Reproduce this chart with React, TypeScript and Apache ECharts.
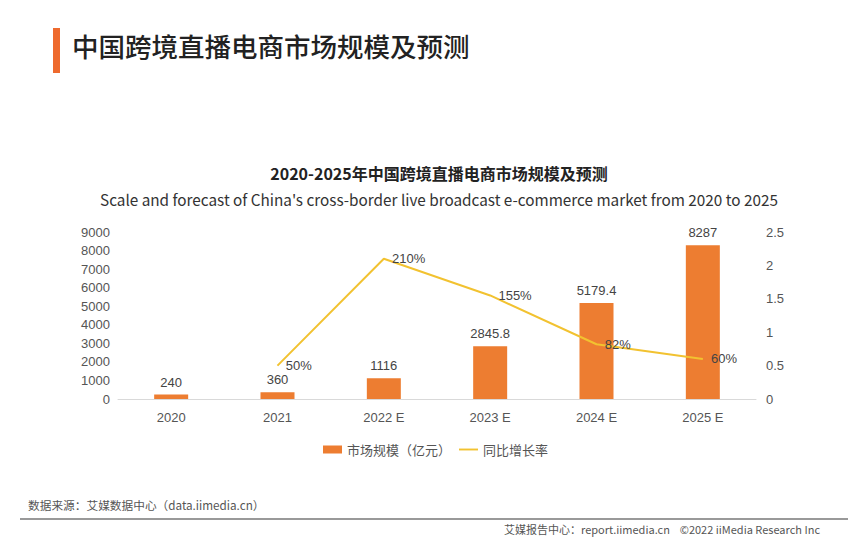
import React, { useEffect, useRef } from "react";
import * as echarts from "echarts";

const categories = ["2020", "2021", "2022 E", "2023 E", "2024 E", "2025 E"];
const marketSize = [240, 360, 1116, 2845.8, 5179.4, 8287];
const growthRate: (number | null)[] = [null, 0.5, 2.1, 1.55, 0.82, 0.6];
const seriesNames = ["市场规模（亿元）", "同比增长率"];
const pageTitle = "中国跨境直播电商市场规模及预测";
const chartTitle = "2020-2025年中国跨境直播电商市场规模及预测";
const chartSubtitle = "Scale and forecast of China's cross-border live broadcast e-commerce market from 2020 to 2025";
const sourceText = "数据来源：艾媒数据中心（data.iimedia.cn）";
const footerText = "艾媒报告中心：report.iimedia.cn    ©2022 iiMedia Research Inc";

const CJK = '"Noto Sans CJK SC", "Noto Sans", sans-serif';
const LAT = '"Liberation Sans", Arial, sans-serif';
const LINE_COLOR = "#F2C230";

export default function App() {
  const ref = useRef<HTMLDivElement>(null);
  useEffect(() => {
    if (!ref.current) return;
    const chart = echarts.init(ref.current, undefined, { renderer: "svg" });
    chart.setOption({
      animation: false,
      backgroundColor: "#ffffff",
      title: [
        {
          text: chartTitle,
          left: 434,
          top: 160,
          textAlign: "center",
          textStyle: { fontFamily: CJK, fontSize: 16, fontWeight: "bold", color: "#222" },
        },
        {
          text: chartSubtitle,
          left: 434,
          top: 186,
          textAlign: "center",
          textStyle: { fontFamily: CJK, fontSize: 15.3, fontWeight: "normal", color: "#333" },
        },
      ],
      grid: { left: 118, right: 98, top: 232, bottom: 144 },
      legend: {
        top: 438,
        left: 318,
        itemGap: 8,
        itemWidth: 19,
        itemHeight: 8,
        textStyle: { fontFamily: CJK, fontSize: 13, color: "#555" },
        data: [
          { name: seriesNames[0], icon: "rect" },
          { name: seriesNames[1], icon: "path://M0 3h20v2H0z", itemStyle: { color: LINE_COLOR, opacity: 1 } },
        ],
      },
      xAxis: {
        type: "category",
        data: categories,
        axisLine: { lineStyle: { color: "#d9d9d9", width: 1 } },
        axisTick: { show: false },
        axisLabel: { fontFamily: LAT, fontSize: 13, color: "#555", margin: 12 },
      },
      yAxis: [
        {
          type: "value",
          min: 0,
          max: 9000,
          interval: 1000,
          splitLine: { show: false },
          axisLine: { show: false },
          axisTick: { show: false },
          axisLabel: {
            fontFamily: LAT,
            fontSize: 13,
            color: "#555",
            margin: 8,
            formatter: (v: number) => String(v),
          },
        },
        {
          type: "value",
          min: 0,
          max: 2.5,
          interval: 0.5,
          splitLine: { show: false },
          axisLine: { show: false },
          axisTick: { show: false },
          axisLabel: { fontFamily: LAT, fontSize: 13, color: "#555", margin: 10 },
        },
      ],
      series: [
        {
          name: seriesNames[0],
          type: "bar",
          data: marketSize,
          barWidth: 34,
          itemStyle: { color: "#ED7D31" },
          label: {
            show: true,
            position: "top",
            distance: 6,
            fontFamily: LAT,
            fontSize: 13,
            color: "#444",
          },
        },
        {
          name: seriesNames[1],
          type: "line",
          yAxisIndex: 1,
          data: growthRate,
          symbol: "circle",
          symbolSize: 0.5,
          showSymbol: true,
          lineStyle: { color: LINE_COLOR, width: 2 },
          itemStyle: { color: LINE_COLOR },
          label: {
            show: true,
            position: "right",
            distance: 8,
            fontFamily: LAT,
            fontSize: 13,
            color: "#444",
            formatter: (p: any) => Math.round(p.value * 100) + "%",
          },
        },
      ],
      graphic: [
        { type: "rect", left: 53, top: 28, shape: { width: 7, height: 45 }, style: { fill: "#EE6A2E" } },
        {
          type: "text",
          left: 72,
          top: 32,
          style: { text: pageTitle, font: `500 26.5px ${CJK}`, fill: "#222" },
        },
        {
          type: "text",
          left: 28,
          top: 499,
          style: { text: sourceText, font: `11.7px ${CJK}`, fill: "#555" },
        },
        {
          type: "rect",
          left: 20,
          top: 518,
          shape: { width: 828, height: 2 },
          style: { fill: "#999" },
        },
        {
          type: "text",
          right: 34,
          top: 523,
          style: { text: footerText, font: `11px ${CJK}`, fill: "#555" },
        },
      ],
    });
    return () => chart.dispose();
  }, []);
  return (
    <div
      ref={ref}
      style={{ width: 854, height: 543, position: "fixed", left: 0, top: 0 }}
    />
  );
}
